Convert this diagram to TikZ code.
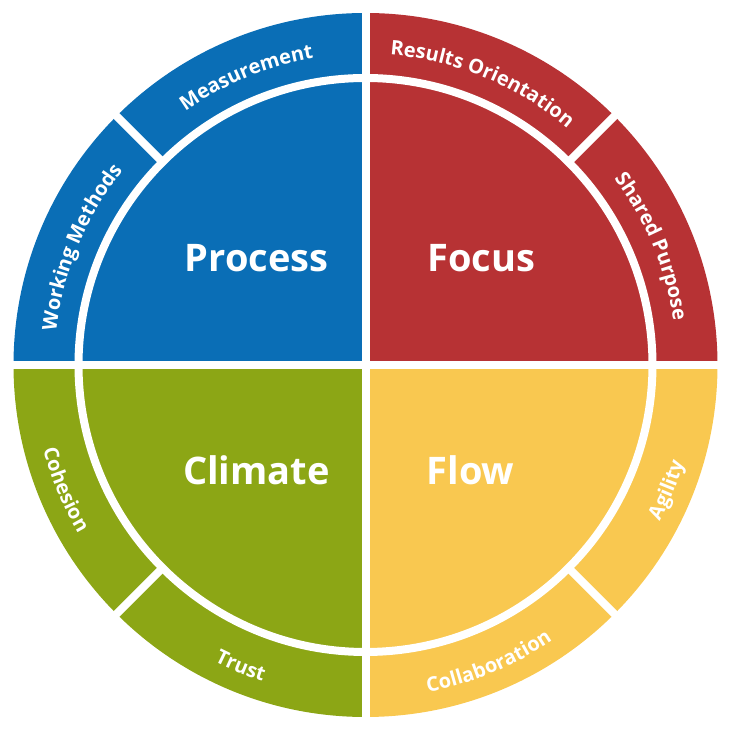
\documentclass[tikz,border=0pt]{standalone}
\usepackage{fontspec}
\setmainfont{Open Sans}
\usetikzlibrary{decorations.text}
\definecolor{cblue}{HTML}{0A6EB6}
\definecolor{cred}{HTML}{B73234}
\definecolor{cgreen}{HTML}{8CA615}
\definecolor{cyel}{HTML}{F9C850}
\newcommand{\ringfont}{\bfseries\fontsize{20}{20}\selectfont}
\tikzset{
  sep/.style={white,line width=8pt},
  big/.style={white,font=\bfseries\fontsize{38}{38}\selectfont},
  cw/.style={decorate,decoration={text along path,text align=center,text color=white,text={|\ringfont|#1}}},
}
\begin{document}
\begin{tikzpicture}[x=1pt,y=1pt]
\useasboundingbox (0,0) rectangle (731,730);
\begin{scope}[shift={(365.5,365)}]
\fill[cblue] (0,0) -- (180:352) arc[start angle=180,end angle=90,radius=352] -- cycle;
\fill[cred] (0,0) -- (90:352) arc[start angle=90,end angle=0,radius=352] -- cycle;
\fill[cyel] (0,0) -- (0:352) arc[start angle=0,end angle=-90,radius=352] -- cycle;
\fill[cgreen] (0,0) -- (-90:352) arc[start angle=-90,end angle=-180,radius=352] -- cycle;
\draw[sep] (0,0) circle[radius=287];
\draw[sep] (-360,0) -- (360,0);
\draw[sep] (0,-360) -- (0,360);
\foreach \a in {45,135,225,315} \draw[sep] (\a:285) -- (\a:360);
\node[big] (p) at (-109,107) {Process};
\node[big] (f) at (116,107) {Focus};
\node[big] (c) at (-109,-105) {Climate};
\node[big] (fl) at (105,-105) {Flow};
\path[cw=Measurement] (135:311) arc[start angle=135,end angle=90,radius=311];
\path[cw=Working Methods] (180:311) arc[start angle=180,end angle=135,radius=311];
\path[cw=Results Orientation] (90:311) arc[start angle=90,end angle=45,radius=311];
\path[cw=Shared Purpose] (45:311) arc[start angle=45,end angle=0,radius=311];
\path[cw=Cohesion] (-180:333) arc[start angle=-180,end angle=-135,radius=333];
\path[cw=Trust] (-135:333) arc[start angle=-135,end angle=-90,radius=333];
\path[cw=Collaboration] (-90:333) arc[start angle=-90,end angle=-45,radius=333];
\path[cw=Agility] (-45:333) arc[start angle=-45,end angle=0,radius=333];
\end{scope}
\end{tikzpicture}
\end{document}
